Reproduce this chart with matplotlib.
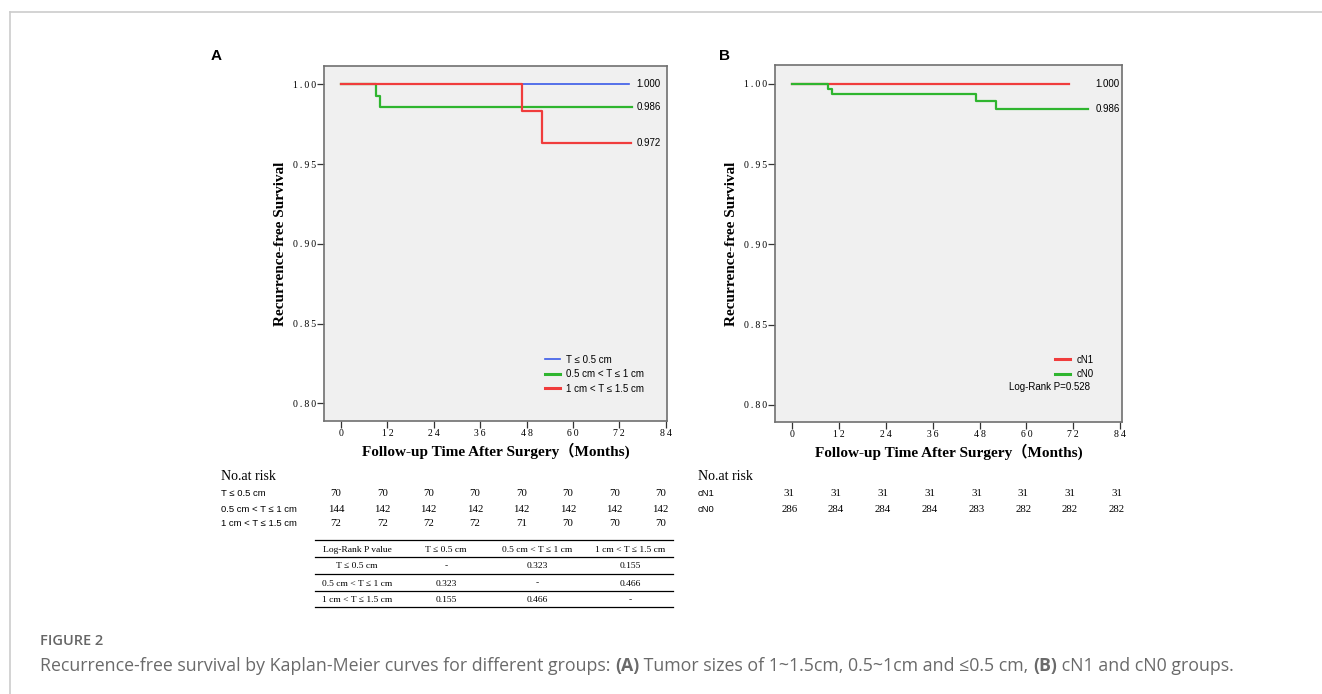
import numpy as np
import matplotlib.pyplot as plt
import matplotlib.transforms as mtransforms
from matplotlib.lines import Line2D

W, H = 1322, 694

# ---- data ----
months = [0, 12, 24, 36, 48, 60, 72, 84]
yticks = [0.80, 0.85, 0.90, 0.95, 1.00]

# panel A : tumour size groups
grp_a = ['T ≤ 0.5 cm', '0.5 cm < T ≤ 1 cm', '1 cm < T ≤ 1.5 cm']
t_a1 = [0, 74.5]
s_a1 = [1.0, 1.0]
t_a2 = [0, 9.0, 10.1, 75.3]
s_a2 = [1.0, 0.993, 0.986, 0.986]
t_a3 = [0, 46.8, 51.9, 75.0]
s_a3 = [1.0, 0.983, 0.963, 0.963]
end_a = ['1.000', '0.986', '0.972']
risk_a1 = [70, 70, 70, 70, 70, 70, 70, 70]
risk_a2 = [144, 142, 142, 142, 142, 142, 142, 142]
risk_a3 = [72, 72, 72, 72, 71, 70, 70, 70]

# pairwise log-rank p values
lr_head = ['Log-Rank P value', 'T ≤ 0.5 cm', '0.5 cm < T ≤ 1 cm', '1 cm < T ≤ 1.5 cm']
lr_rows = [['T ≤ 0.5 cm', '-', '0.323', '0.155'],
           ['0.5 cm < T ≤ 1 cm', '0.323', '-', '0.466'],
           ['1 cm < T ≤ 1.5 cm', '0.155', '0.466', '-']]

# panel B : cN groups
grp_b = ['cN1', 'cN0']
t_b1 = [0, 70.9]
s_b1 = [1.0, 1.0]
t_b2 = [0, 9.15, 10.2, 47.1, 52.1, 75.8]
s_b2 = [1.0, 0.9967, 0.9934, 0.989, 0.9845, 0.9845]
end_b = ['1.000', '0.986']
risk_b1 = [31, 31, 31, 31, 31, 31, 31, 31]
risk_b2 = [286, 284, 284, 284, 283, 282, 282, 282]
p_b = 'Log-Rank P=0.528'

BLUE = '#3a5ae8'
GREEN = '#2fb52f'
RED = '#f03c3c'
SERIF = ['Liberation Serif', 'DejaVu Serif']
SANS = ['Liberation Sans', 'DejaVu Sans']
TS = '\u2009'


def spaced(s):
    return TS.join(list(s))


def fx(px):
    return px / W


def fy(py):
    return 1 - py / H


def box(l, t, r, b):
    return [fx(l), fy(b), (r - l) / W, (b - t) / H]


fig = plt.figure(figsize=(W / 100, H / 100), dpi=100)

# outer frame
fig.add_artist(Line2D([fx(10), 1], [fy(12), fy(12)], color='#cccccc', lw=1.2))
fig.add_artist(Line2D([fx(10), fx(10)], [fy(12), 0], color='#cccccc', lw=1.2))


def setup(ax, xlim, ylim):
    ax.set_facecolor('#f0f0f0')
    for sp in ax.spines.values():
        sp.set_color('#707070')
        sp.set_linewidth(1.2)
    ax.set_xlim(xlim)
    ax.set_ylim(ylim)
    ax.set_xticks(months)
    ax.set_xticklabels([spaced(str(m)) for m in months], family=SERIF, fontsize=7)
    ax.set_yticks(yticks)
    ax.set_yticklabels([spaced(f'{v:.2f}') for v in yticks], family=SERIF, fontsize=7)
    ax.tick_params(direction='out', length=5, width=0.9, color='#333333', pad=1)
    ax.set_ylabel('Recurrence-free Survival', family=SERIF, fontweight='bold',
                  fontsize=11, labelpad=4)
    ax.set_xlabel('Follow-up Time After Surgery（Months)', family=SERIF + ['Noto Sans CJK SC'],
                  fontweight='bold', fontsize=11, labelpad=3)


# ---------------- panel A ----------------
axA = fig.add_axes(box(324, 66, 667, 421))
setup(axA, (-4.4, 84.34), (0.789, 1.0115))
hA1, = axA.step(t_a1, s_a1, where='post', color=BLUE, lw=1.2)
hA2, = axA.step(t_a2, s_a2, where='post', color=GREEN, lw=1.6)
hA3, = axA.step(t_a3, s_a3, where='post', color=RED, lw=1.6)
for lab, t, s in zip(end_a, [t_a1, t_a2, t_a3], [s_a1, s_a2, s_a3]):
    axA.text(76.5, s[-1], lab, family=SANS, fontsize=7, va='center', ha='left')
legA = axA.legend([Line2D([], [], color=BLUE, lw=1.2), Line2D([], [], color=GREEN, lw=2.2),
                   Line2D([], [], color=RED, lw=2.2)], grp_a, loc='upper left',
                  bbox_to_anchor=(fx(540), fy(350)), bbox_transform=fig.transFigure,
                  frameon=False, prop={'family': SANS, 'size': 7}, handlelength=1.6,
                  handletextpad=0.6, labelspacing=0.45, borderpad=0)
fig.text(fx(216), fy(56), 'A', fontsize=11, fontweight='bold', family=SANS, ha='center', va='center')

# risk table A
trA = mtransforms.blended_transform_factory(axA.transData, fig.transFigure)
fig.text(fx(221), fy(477), 'No.at risk', family=SERIF, fontsize=10, va='center')
for row, (lab, vals) in enumerate(zip(grp_a, [risk_a1, risk_a2, risk_a3])):
    y = fy(494 + 15 * row)
    fig.text(fx(221), y, lab, family=SANS, fontsize=6.8, va='center')
    for m, v in zip(months, vals):
        axA.text(m - 1.3, y, str(v), transform=trA, family=SERIF, fontsize=7.8,
                 ha='center', va='center', clip_on=False)

# log-rank table
col_x = [357, 446, 537, 630]
for ly in [540, 557, 574, 591, 607]:
    fig.add_artist(Line2D([fx(315), fx(673)], [fy(ly), fy(ly)], color='black', lw=0.9))
for cx, txt in zip(col_x, lr_head):
    fig.text(fx(cx), fy(549.5), txt, family=SERIF, fontsize=6.8, ha='center', va='center')
for r, row in enumerate(lr_rows):
    for cx, txt in zip(col_x, row):
        fig.text(fx(cx), fy(566.5 + 17 * r), txt, family=SERIF, fontsize=6.8,
                 ha='center', va='center')

# ---------------- panel B ----------------
axB = fig.add_axes(box(775.3, 65.3, 1122.3, 422))
setup(axB, (-4.36, 84.59), (0.7894, 1.01145))
hB1, = axB.step(t_b1, s_b1, where='post', color=RED, lw=1.6)
hB2, = axB.step(t_b2, s_b2, where='post', color=GREEN, lw=1.6)
for lab, s in zip(end_b, [s_b1, s_b2]):
    axB.text(77.8, s[-1], lab, family=SANS, fontsize=7, va='center', ha='left')
legB = axB.legend([Line2D([], [], color=RED, lw=2.2), Line2D([], [], color=GREEN, lw=2.2)],
                  grp_b, loc='upper left', bbox_to_anchor=(fx(1050), fy(350)),
                  bbox_transform=fig.transFigure, frameon=False,
                  prop={'family': SANS, 'size': 7}, handlelength=1.6,
                  handletextpad=0.6, labelspacing=0.45, borderpad=0)
fig.text(fx(1090), fy(387), p_b, family=SANS, fontsize=7, ha='right', va='center')
fig.text(fx(724), fy(56), 'B', fontsize=11, fontweight='bold', family=SANS, ha='center', va='center')

trB = mtransforms.blended_transform_factory(axB.transData, fig.transFigure)
fig.text(fx(698), fy(477), 'No.at risk', family=SERIF, fontsize=10, va='center')
for row, (lab, vals) in enumerate(zip(grp_b, [risk_b1, risk_b2])):
    y = fy(494 + 15 * row)
    fig.text(fx(698), y, lab, family=SANS, fontsize=6.8, va='center')
    for m, v in zip(months, vals):
        axB.text(m - 0.8, y, str(v), transform=trB, family=SERIF, fontsize=7.8,
                 ha='center', va='center', clip_on=False)

# ---------------- caption ----------------
fig.text(fx(40), fy(641), 'FIGURE 2', family=['Open Sans'], fontweight='semibold',
         fontsize=10.5, color='#666666', va='center')
cap = [('Recurrence-free survival by Kaplan-Meier curves for different groups: ', 'normal'),
       ('(A)', 'bold'), (' Tumor sizes of 1~1.5cm, 0.5~1cm and ≤0.5 cm, ', 'normal'),
       ('(B)', 'bold'), (' cN1 and cN0 groups.', 'normal')]
x0 = fx(40)
rend = fig.canvas.get_renderer()
for txt, wt in cap:
    t = fig.text(x0, fy(666), txt, family=['Open Sans', 'DejaVu Sans'], fontweight=wt,
                 fontsize=12.8, color='#6a6a6a', va='center')
    bb = t.get_window_extent(renderer=rend)
    x0 = bb.x1 / W

fig.savefig('out.png', dpi=100)
